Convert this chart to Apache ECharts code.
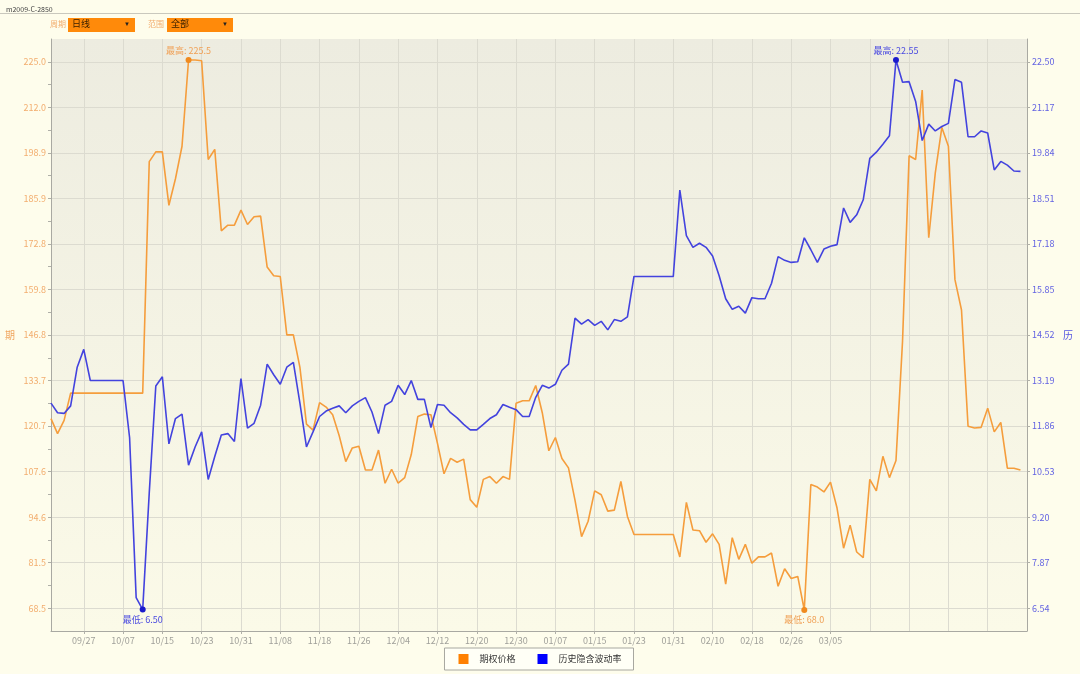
<!DOCTYPE html>
<html>
<head>
<meta charset="utf-8">
<title>m2009-C-2850</title>
<script src="https://cdn.jsdelivr.net/npm/echarts@6.0.0/dist/echarts.min.js"></script>
<style>
  html, body { margin: 0; padding: 0; background: #fefdec; }
  #main { width: 1080px; height: 674px; }
</style>
</head>
<body>
<div id="main"></div>
<script>
// trading days (x axis)
const dates = [
  '09/20', '09/23', '09/24', '09/25', '09/26', '09/27',
  '09/30', '10/01', '10/02', '10/03', '10/04', '10/07',
  '10/08', '10/09', '10/10', '10/11', '10/14', '10/15',
  '10/16', '10/17', '10/18', '10/21', '10/22', '10/23',
  '10/24', '10/25', '10/28', '10/29', '10/30', '10/31',
  '11/01', '11/04', '11/05', '11/06', '11/07', '11/08',
  '11/11', '11/12', '11/13', '11/14', '11/15', '11/18',
  '11/19', '11/20', '11/21', '11/22', '11/25', '11/26',
  '11/27', '11/28', '11/29', '12/02', '12/03', '12/04',
  '12/05', '12/06', '12/09', '12/10', '12/11', '12/12',
  '12/13', '12/16', '12/17', '12/18', '12/19', '12/20',
  '12/23', '12/24', '12/25', '12/26', '12/27', '12/30',
  '12/31', '01/01', '01/02', '01/03', '01/06', '01/07',
  '01/08', '01/09', '01/10', '01/13', '01/14', '01/15',
  '01/16', '01/17', '01/20', '01/21', '01/22', '01/23',
  '01/24', '01/27', '01/28', '01/29', '01/30', '01/31',
  '02/03', '02/04', '02/05', '02/06', '02/07', '02/10',
  '02/11', '02/12', '02/13', '02/14', '02/17', '02/18',
  '02/19', '02/20', '02/21', '02/24', '02/25', '02/26',
  '02/27', '02/28', '03/02', '03/03', '03/04', '03/05',
  '03/06', '03/09', '03/10', '03/11', '03/12', '03/13',
  '03/16', '03/17', '03/18', '03/19', '03/20', '03/23',
  '03/24', '03/25', '03/26', '03/27', '03/30', '03/31',
  '04/01', '04/02', '04/03', '04/06', '04/07', '04/08',
  '04/09', '04/10', '04/13', '04/14', '04/15', '04/16'
]
// last labelled date on the axis
const lastLabel = '03/05'

// 期权价格 (left axis)
const optionPrice = [
  122.8, 118.5, 122.3, 130.1, 130.1, 130.1, 130.1, 130.1, 130.1, 130.1,
  130.1, 130.1, 130.1, 130.1, 130.1, 196.4, 199.2, 199.2, 183.9, 191.5,
  200.8, 225.5, 225.5, 225.3, 197.0, 199.9, 176.6, 178.2, 178.2, 182.5,
  178.4, 180.6, 180.8, 166.2, 163.7, 163.5, 146.8, 146.8, 137.5, 121.2,
  119.5, 127.4, 126.1, 123.9, 117.9, 110.5, 114.4, 114.9, 108.1, 108.1,
  113.8, 104.3, 108.3, 104.3, 105.9, 112.5, 123.4, 124.1, 123.9, 115.7,
  107.0, 111.4, 110.3, 111.2, 99.6, 97.4, 105.4, 106.2, 104.3, 106.2,
  105.4, 127.2, 127.9, 127.9, 132.3, 124.5, 113.6, 117.4, 111.4, 108.7,
  99.4, 89.0, 93.4, 102.1, 101.0, 96.3, 96.6, 104.8, 94.8, 89.6,
  89.6, 89.6, 89.6, 89.6, 89.6, 89.6, 83.2, 98.8, 90.9, 90.7,
  87.4, 89.8, 86.8, 75.4, 88.7, 82.5, 86.8, 81.4, 83.2, 83.2,
  84.3, 74.8, 79.8, 77.0, 77.6, 68.0, 103.9, 103.2, 101.8, 104.6,
  97.2, 85.7, 92.3, 84.6, 83.0, 105.4, 102.1, 112.0, 105.9, 110.8,
  145.0, 198.1, 197.0, 216.9, 174.6, 193.2, 206.2, 200.8, 162.6, 153.9,
  120.6, 120.1, 120.3, 125.8, 119.0, 121.7, 108.6, 108.6, 108.1
]

// 历史隐含波动率 (right axis)
const impliedVol = [
  12.53, 12.25, 12.23, 12.45, 13.58, 14.10, 13.19, 13.19, 13.19, 13.19,
  13.19, 13.19, 11.52, 6.85, 6.50, 9.91, 13.03, 13.30, 11.34, 12.08,
  12.21, 10.72, 11.25, 11.69, 10.30, 10.97, 11.60, 11.64, 11.41, 13.25,
  11.80, 11.94, 12.47, 13.67, 13.36, 13.08, 13.58, 13.72, 12.53, 11.25,
  11.69, 12.14, 12.30, 12.38, 12.45, 12.25, 12.45, 12.58, 12.69, 12.27,
  11.64, 12.47, 12.58, 13.05, 12.78, 13.19, 12.64, 12.64, 11.82, 12.49,
  12.47, 12.25, 12.10, 11.91, 11.75, 11.75, 11.91, 12.08, 12.19, 12.49,
  12.41, 12.34, 12.14, 12.14, 12.70, 13.05, 12.97, 13.08, 13.49, 13.67,
  15.01, 14.84, 14.97, 14.80, 14.92, 14.67, 14.97, 14.92, 15.05, 16.23,
  16.23, 16.23, 16.23, 16.23, 16.23, 16.23, 18.75, 17.42, 17.08, 17.20,
  17.08, 16.83, 16.25, 15.58, 15.27, 15.36, 15.16, 15.61, 15.58, 15.58,
  16.03, 16.81, 16.70, 16.64, 16.66, 17.36, 17.01, 16.64, 17.03, 17.11,
  17.16, 18.23, 17.81, 18.03, 18.47, 19.68, 19.86, 20.09, 20.34, 22.55,
  21.90, 21.92, 21.34, 20.20, 20.68, 20.48, 20.61, 20.70, 21.98, 21.90,
  20.31, 20.31, 20.48, 20.42, 19.34, 19.59, 19.48, 19.31, 19.30
]

// tick labels
const leftTicks = ['68.5', '81.5', '94.6', '107.6', '120.7', '133.7', '146.8',
  '159.8', '172.8', '185.9', '198.9', '212.0', '225.0']
const rightTicks = ['6.54', '7.87', '9.20', '10.53', '11.86', '13.19', '14.52',
  '15.85', '17.18', '18.51', '19.84', '21.17', '22.50']

const ORANGE = '#f59d3c'
const BLUE = '#4343de'
const FONT = '"Noto Sans CJK SC", "Noto Sans", sans-serif'

// exact tick positions: evenly spread between first and last label
const spread = (labels) => {
  const lo = Number(labels[0])
  const hi = Number(labels[labels.length - 1])
  const step = (hi - lo) / (labels.length - 1)
  return { lo, hi, step, values: labels.map((_, i) => lo + i * step) }
}
const L = spread(leftTicks)
const R = spread(rightTicks)
// left axis also gets minor ticks half way
const leftTickValues = []
L.values.forEach((v, i) => {
  leftTickValues.push(v)
  if (i < L.values.length - 1) leftTickValues.push(v + L.step / 2)
})

const lastIdx = dates.indexOf(lastLabel)

const myChart = echarts.init(document.getElementById('main'))

const option = {
  backgroundColor: '#fefdec',
  animation: false,
  textStyle: { fontFamily: FONT },

  title: {
    text: 'm2009-C-2850',
    left: 1,
    top: 1,
    textStyle: { fontSize: 7, fontWeight: 'normal', color: '#444' }
  },

  // header controls
  graphic: [
    { type: 'line', shape: { x1: 0, y1: 13.5, x2: 1080, y2: 13.5 }, style: { stroke: '#c9c8bd', lineWidth: 1 } },
    { type: 'text', x: 50, y: 20, style: { text: '周期', fill: '#f2ad6e', fontSize: 8, fontFamily: FONT } },
    { type: 'rect', shape: { x: 68, y: 18, width: 67, height: 14 }, style: { fill: '#ff8a0a' } },
    { type: 'text', x: 72, y: 19.5, style: { text: '日线', fill: '#3a2000', fontSize: 9, fontFamily: FONT } },
    { type: 'text', x: 124, y: 21, style: { text: '▼', fill: '#222', fontSize: 6 } },
    { type: 'text', x: 148, y: 20, style: { text: '范围', fill: '#f2ad6e', fontSize: 8, fontFamily: FONT } },
    { type: 'rect', shape: { x: 167, y: 18, width: 66, height: 14 }, style: { fill: '#ff8a0a' } },
    { type: 'text', x: 171, y: 19.5, style: { text: '全部', fill: '#3a2000', fontSize: 9, fontFamily: FONT } },
    { type: 'text', x: 222, y: 21, style: { text: '▼', fill: '#222', fontSize: 6 } }
  ],

  legend: {
    bottom: 4,
    left: 'center',
    itemWidth: 10,
    itemHeight: 10,
    itemGap: 22,
    padding: [6, 12, 6, 14],
    borderColor: '#a8a8a0',
    borderWidth: 1,
    backgroundColor: '#fffff6',
    textStyle: { fontSize: 9, color: '#333', padding: [0, 0, 0, 6] },
    data: [
      { name: '期权价格', icon: 'rect', itemStyle: { color: '#ff8000' } },
      { name: '历史隐含波动率', icon: 'rect', itemStyle: { color: '#0000ff' } }
    ]
  },

  grid: {
    left: 51,
    right: 53,
    top: 39,
    bottom: 43,
    show: true,
    borderWidth: 0,
    backgroundColor: new echarts.graphic.LinearGradient(0, 0, 0, 1, [
      { offset: 0, color: '#edece0' },
      { offset: 1, color: '#fbfae8' }
    ])
  },

  xAxis: {
    type: 'category',
    data: dates,
    boundaryGap: false,
    axisLine: { lineStyle: { color: '#a9a9a2' } },
    axisTick: {
      length: 3,
      interval: (i) => i % 6 === 5 && i <= lastIdx,
      lineStyle: { color: '#b0b0a8' }
    },
    axisLabel: {
      interval: (i) => i % 6 === 5 && i <= lastIdx,
      color: '#a0a09a',
      fontSize: 9,
      margin: 5
    },
    splitLine: {
      show: true,
      interval: (i) => i % 6 === 5,
      lineStyle: { color: '#dcdbd0' }
    }
  },

  yAxis: [
    {
      type: 'value',
      position: 'left',
      min: L.lo - L.step / 2,
      max: L.hi + L.step / 2,
      name: '期',
      nameLocation: 'middle',
      nameRotate: 0,
      nameGap: 36,
      nameTextStyle: { color: '#f0a55e', fontSize: 10 },
      axisLine: { show: true, lineStyle: { color: '#a9a9a2' } },
      axisTick: { show: true, length: 3, customValues: leftTickValues, lineStyle: { color: '#b0b0a8' } },
      axisLabel: {
        customValues: L.values,
        formatter: (v) => leftTicks[Math.round((v - L.lo) / L.step)],
        color: '#f2ad6e',
        fontSize: 9,
        margin: 5
      },
      splitLine: { show: false }
    },
    {
      type: 'value',
      position: 'right',
      min: R.lo - R.step / 2,
      max: R.hi + R.step / 2,
      name: '历',
      nameLocation: 'middle',
      nameRotate: 0,
      nameGap: 36,
      nameTextStyle: { color: '#5555e0', fontSize: 10 },
      axisLine: { show: true, lineStyle: { color: '#a9a9a2' } },
      axisTick: { show: true, length: 3, customValues: R.values, lineStyle: { color: '#b0b0a8' } },
      axisLabel: {
        customValues: R.values,
        formatter: (v) => rightTicks[Math.round((v - R.lo) / R.step)],
        color: '#6262e2',
        fontSize: 9,
        margin: 5
      },
      splitLine: { show: true, lineStyle: { color: '#dcdbd0' } }
    }
  ],

  series: [
    {
      name: '期权价格',
      type: 'line',
      yAxisIndex: 0,
      data: optionPrice,
      showSymbol: false,
      lineStyle: { color: ORANGE, width: 1.6 },
      itemStyle: { color: ORANGE },
      markPoint: {
        symbol: 'circle',
        symbolSize: 6,
        itemStyle: { color: '#f08a1e' },
        label: { fontSize: 9, color: '#f0a055', distance: 2 },
        data: [
          { type: 'max', label: { position: 'top', formatter: (p) => '最高: ' + p.value.toFixed(1) } },
          { type: 'min', label: { position: 'bottom', formatter: (p) => '最低: ' + p.value.toFixed(1) } }
        ]
      }
    },
    {
      name: '历史隐含波动率',
      type: 'line',
      yAxisIndex: 1,
      data: impliedVol,
      showSymbol: false,
      lineStyle: { color: BLUE, width: 1.6 },
      itemStyle: { color: BLUE },
      markPoint: {
        symbol: 'circle',
        symbolSize: 6,
        itemStyle: { color: '#1a1acc' },
        label: { fontSize: 9, color: '#4a4ae0', distance: 2 },
        data: [
          { type: 'max', label: { position: 'top', formatter: (p) => '最高: ' + p.value.toFixed(2) } },
          { type: 'min', label: { position: 'bottom', formatter: (p) => '最低: ' + p.value.toFixed(2) } }
        ]
      }
    }
  ]
}

myChart.setOption(option)
</script>
</body>
</html>
